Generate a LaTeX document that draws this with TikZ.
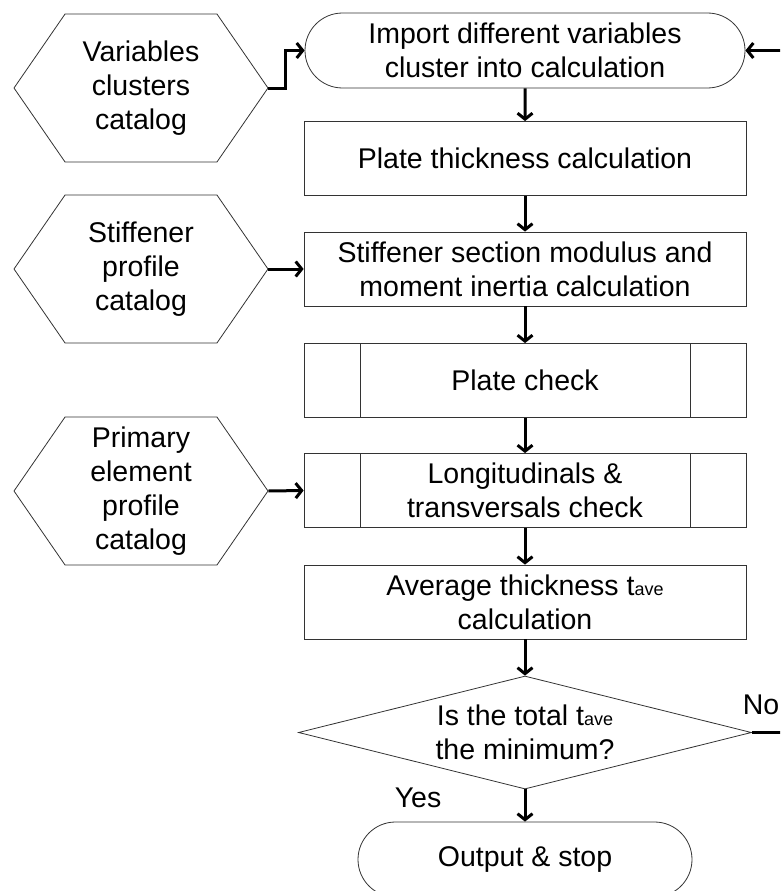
\documentclass[tikz,border=0pt]{standalone}
\usepackage{fontspec}
\setmainfont{Liberation Sans}
\usetikzlibrary{shapes.geometric,shapes.symbols,shapes.misc,arrows.meta}

\newcommand{\tave}{t{\fontsize{18}{18}\selectfont ave}}

\begin{document}
\begin{tikzpicture}[
  x=1pt, y=-1pt,
  every node/.style={font=\fontsize{28.5}{34}\selectfont, align=center, inner sep=0pt},
  box/.style={rectangle, draw=black!80, line width=0.8pt, minimum width=442pt, minimum height=74pt},
  subbox/.style={box, path picture={
      \draw[black!80, line width=0.8pt] ([xshift=56pt]path picture bounding box.north west) -- ([xshift=56pt]path picture bounding box.south west);
      \draw[black!80, line width=0.8pt] ([xshift=-56pt]path picture bounding box.north east) -- ([xshift=-56pt]path picture bounding box.south east);}},
  term/.style={rounded rectangle, draw=black!80, line width=0.8pt, minimum height=75pt},
  catalog/.style={signal, signal to=west and east, signal pointer angle=110.8, draw=black!80, line width=0.8pt, minimum width=254pt, minimum height=148pt},
  decision/.style={diamond, aspect=4, draw=black!80, line width=0.8pt, minimum width=453pt, minimum height=113pt},
  arrow/.style={-{Straight Barb[length=6pt,width=15pt]}, line width=3pt},
  answer/.style={font=\fontsize{28.5}{34}\selectfont},
]
\useasboundingbox (0,0) rectangle (780,891);
\clip (0,0) rectangle (780,891);

% catalogs on the left
\node[catalog] (varcat) at (141,88) {Variables\\clusters\\catalog};
\node[catalog] (stiffcat) at (141,269) {Stiffener\\profile\\catalog};
\node[catalog] (primcat) at (141,491) {Primary\\element\\profile\\catalog};

% main flow
\node[term, minimum width=440pt] (import) at (525,50.5) {Import different variables\\cluster into calculation};
\node[box] (platecalc) at (525,158.5) {Plate thickness calculation};
\node[box] (stiffcalc) at (525,269) {Stiffener section modulus and\\moment inertia calculation};
\node[subbox] (platecheck) at (525,380.5) {Plate check};
\node[subbox] (longcheck) at (525,490.5) {Longitudinals \&\\transversals check};
\node[box] (avecalc) at (525,602) {Average thickness \tave\\calculation};
\node[decision] (mincheck) at (525,732.5) {Is the total \tave\\the minimum?};
\node[term, minimum width=334pt] (output) at (525,859.5) {Output \& stop};

\node[answer] (yes) at (418,798) {Yes};
\node[answer] (no) at (761,705) {No};

\draw[arrow] (import) -- (platecalc);
\draw[arrow] (platecalc) -- (stiffcalc);
\draw[arrow] (stiffcalc) -- (platecheck);
\draw[arrow] (platecheck) -- (longcheck);
\draw[arrow] (longcheck) -- (avecalc);
\draw[arrow] (avecalc) -- (mincheck);
\draw[arrow] (mincheck) -- (output);

\draw[arrow] (varcat.east) -- ++(17,0) |- (import.west);
\draw[arrow] (stiffcat.east) -- (stiffcalc.west);
\draw[arrow] (primcat.east) -- (longcheck.west);

% loop back when not minimum
\draw[arrow] (mincheck.east) -- ++(60,0) |- (import.east);
\end{tikzpicture}
\end{document}
